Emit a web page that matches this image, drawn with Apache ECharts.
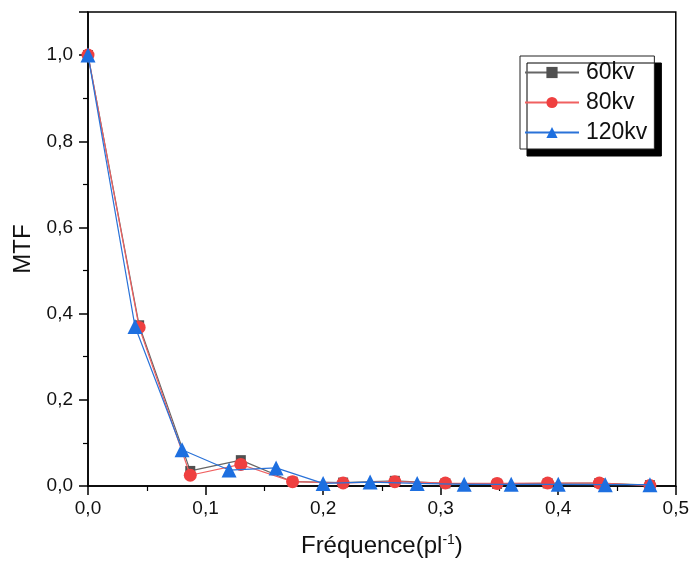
<!DOCTYPE html>
<html>
<head>
<meta charset="utf-8">
<script src="https://cdn.jsdelivr.net/npm/echarts@6/dist/echarts.min.js"></script>
<style>
  html, body { margin: 0; padding: 0; background: #fff; }
  #chart { width: 692px; height: 566px; }
</style>
</head>
<body>
<div id="chart"></div>
<script>
// frequencies (pl^-1)
const freq60 = [0, 0.0435, 0.087, 0.13, 0.174, 0.217, 0.261, 0.304, 0.348, 0.391, 0.435, 0.478];
const freq80 = [0, 0.0435, 0.087, 0.13, 0.174, 0.217, 0.261, 0.304, 0.348, 0.391, 0.435, 0.478];
const freq120 = [0, 0.04, 0.08, 0.12, 0.16, 0.2, 0.24, 0.28, 0.32, 0.36, 0.4, 0.44, 0.478];

// MTF values
const mtf60 = [1.0, 0.373, 0.035, 0.06, 0.01, 0.008, 0.012, 0.006, 0.005, 0.006, 0.007, 0.002];
const mtf80 = [1.0, 0.368, 0.025, 0.05, 0.01, 0.007, 0.01, 0.007, 0.006, 0.007, 0.007, 0.001];
const mtf120 = [1.0, 0.37, 0.084, 0.037, 0.042, 0.006, 0.009, 0.006, 0.004, 0.004, 0.004, 0.003, 0.003];

const seriesNames = ['60kv', '80kv', '120kv'];

const fmt = v => v.toFixed(1).replace('.', ',');
const pairs = (xs, ys) => xs.map((x, i) => [x, ys[i]]);

const myChart = echarts.init(document.getElementById('chart'));

const option = {
  animation: false,
  textStyle: { fontFamily: 'Liberation Sans, Arial, sans-serif' },
  grid: {
    left: 88,
    right: 15,
    top: 12,
    bottom: 80,
    show: true,
    borderColor: '#000',
    borderWidth: 1.5
  },
  legend: {
    data: seriesNames,
    orient: 'vertical',
    left: 520,
    top: 56,
    itemWidth: 54,
    itemHeight: 14,
    itemGap: 7,
    padding: [5, 7, 5, 4],
    backgroundColor: '#fff',
    borderColor: '#222',
    borderWidth: 1,
    shadowColor: '#000',
    shadowBlur: 0,
    shadowOffsetX: 7,
    shadowOffsetY: 7,
    textStyle: { fontSize: 23, color: '#111', padding: [0, 0, 0, 2] }
  },
  xAxis: {
    type: 'value',
    min: 0,
    max: 0.5,
    interval: 0.1,
    name: 'Fréquence(pl{sup|-1})',
    nameLocation: 'middle',
    nameGap: 47,
    nameTextStyle: {
      fontSize: 24,
      color: '#111',
      rich: { sup: { fontSize: 14, verticalAlign: 'top', padding: [0, 0, 12, 0], color: '#111' } }
    },
    axisLine: { lineStyle: { color: '#000', width: 1.5 } },
    axisTick: { length: 9, lineStyle: { color: '#000', width: 1.5 } },
    minorTick: { show: true, splitNumber: 2, length: 5, lineStyle: { color: '#000', width: 1.2 } },
    splitLine: { show: false },
    axisLabel: { fontSize: 19, color: '#111', margin: 13, formatter: fmt }
  },
  yAxis: {
    type: 'value',
    min: 0,
    max: 1.1,
    interval: 0.2,
    name: 'MTF',
    nameLocation: 'middle',
    nameGap: 53,
    nameTextStyle: { fontSize: 24, color: '#111' },
    axisLine: { lineStyle: { color: '#000', width: 1.5 } },
    axisTick: { length: 9, lineStyle: { color: '#000', width: 1.5 } },
    minorTick: { show: true, splitNumber: 2, length: 5, lineStyle: { color: '#000', width: 1.2 } },
    splitLine: { show: false },
    axisLabel: {
      fontSize: 19,
      color: '#111',
      margin: 15,
      formatter: v => (v > 1.05 ? '' : fmt(v))
    }
  },
  series: [
    {
      name: seriesNames[0],
      type: 'line',
      data: pairs(freq60, mtf60),
      symbol: 'rect',
      symbolSize: 10,
      lineStyle: { color: '#666', width: 1.2 },
      itemStyle: { color: '#505050' },
      z: 2
    },
    {
      name: seriesNames[1],
      type: 'line',
      data: pairs(freq80, mtf80),
      symbol: 'circle',
      symbolSize: 13,
      lineStyle: { color: '#f06060', width: 1.2 },
      itemStyle: { color: '#ef4040' },
      z: 3
    },
    {
      name: seriesNames[2],
      type: 'line',
      data: pairs(freq120, mtf120),
      symbol: 'triangle',
      symbolSize: 15,
      lineStyle: { color: '#2a72d8', width: 1.2 },
      itemStyle: { color: '#1d6fe0' },
      z: 4
    }
  ]
};

myChart.setOption(option);

window.addEventListener('resize', () => myChart.resize());
</script>
</body>
</html>
